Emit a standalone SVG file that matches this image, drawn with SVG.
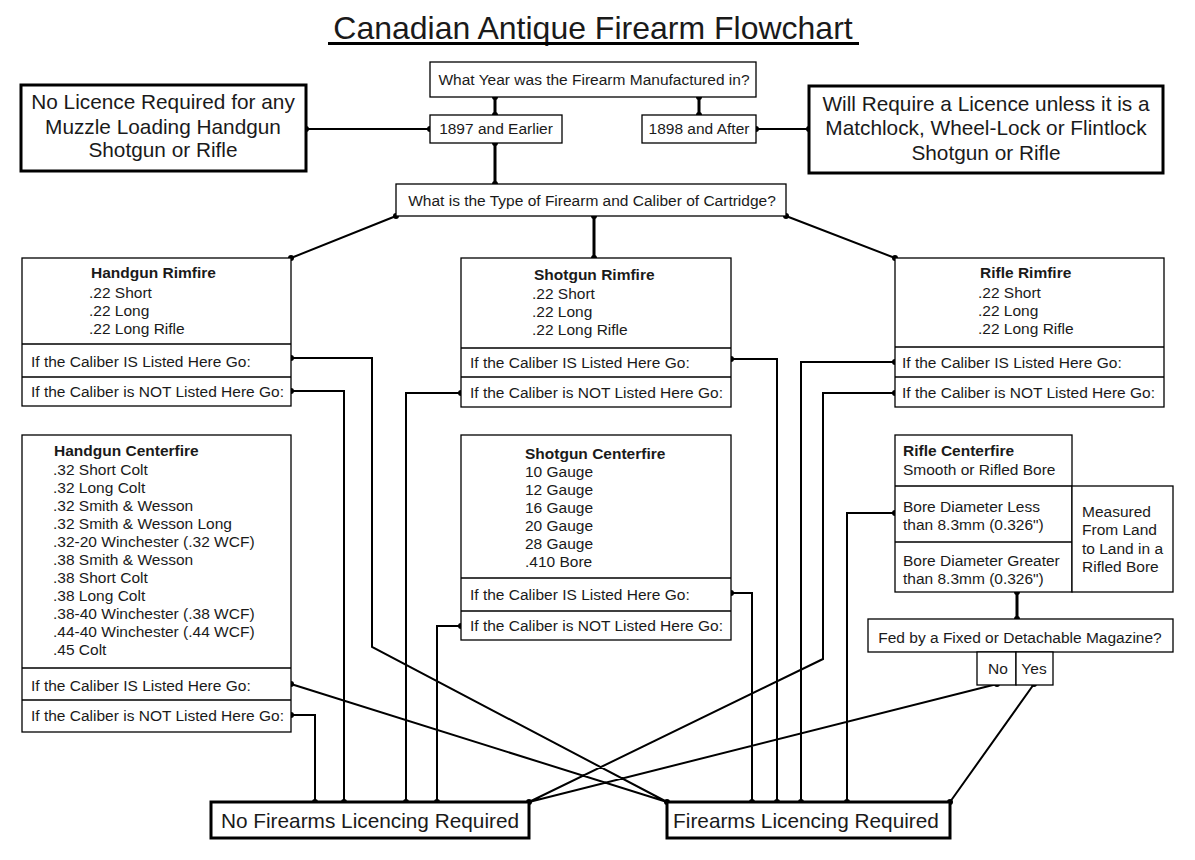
<svg xmlns="http://www.w3.org/2000/svg" width="1195" height="860" viewBox="0 0 1195 860">
<style>
.bx{fill:#fff;stroke:#000;stroke-width:1.3}
.bb{fill:#fff;stroke:#000;stroke-width:3}
.dv{stroke:#000;stroke-width:1.3}
text{font-family:"Liberation Sans",Arial,sans-serif;fill:#1a1a1a}
.t{font-size:15.5px}
.b{font-weight:bold}
.g{font-size:20.8px;text-anchor:middle}
.m{text-anchor:middle}
.c{fill:none;stroke:#000;stroke-width:2}
.k{stroke-width:3}
.d{fill:#000}
</style>
<rect width="1195" height="860" fill="#fff"/>
<g id="title">
<text x="593" y="39" font-size="32" text-anchor="middle" fill="#000">Canadian Antique Firearm Flowchart</text>
<rect x="328" y="42" width="531" height="3" fill="#000"/>
</g>
<g id="connectors">
<path class="c k" d="M495 97V115M699 97V115M495 143V184M594 216V258M1017 592V619"/>
<path class="c" d="M430 129H306M756 129H809M396 216L291 258M786 216L895 258"/>
<path class="c" d="M291 358H372V647L667 802M291 391H344V802M731 359H777V802M461 393H406V802M895 362H801V802M895 393H823V659L529 802M291 684L667 802M291 715H315V802M731 593H752V802M461 626H437V802M895 513H847V802M997 684L529 802M1034 684L950 802"/>
<g class="d">
<circle cx="495" cy="97" r="3"/><circle cx="495" cy="115" r="3"/><circle cx="699" cy="97" r="3"/><circle cx="699" cy="115" r="3"/>
<circle cx="495" cy="143" r="3"/><circle cx="495" cy="184" r="3"/><circle cx="430" cy="129" r="3"/><circle cx="306" cy="129" r="3"/>
<circle cx="756" cy="129" r="3"/><circle cx="809" cy="129" r="3"/><circle cx="396" cy="216" r="3"/><circle cx="291" cy="258" r="3"/>
<circle cx="594" cy="216" r="3"/><circle cx="594" cy="258" r="3"/><circle cx="786" cy="216" r="3"/><circle cx="895" cy="258" r="3"/>
<circle cx="291" cy="358" r="3"/><circle cx="291" cy="391" r="3"/><circle cx="731" cy="359" r="3"/><circle cx="461" cy="393" r="3"/>
<circle cx="895" cy="362" r="3"/><circle cx="895" cy="393" r="3"/><circle cx="291" cy="684" r="3"/><circle cx="291" cy="715" r="3"/>
<circle cx="731" cy="593" r="3"/><circle cx="461" cy="626" r="3"/><circle cx="895" cy="513" r="3"/><circle cx="1017" cy="592" r="3"/>
<circle cx="1017" cy="619" r="3"/><circle cx="997" cy="684" r="3"/><circle cx="1034" cy="684" r="3"/>
<circle cx="315" cy="802" r="3"/><circle cx="344" cy="802" r="3"/><circle cx="406" cy="802" r="3"/><circle cx="437" cy="802" r="3"/><circle cx="529" cy="802" r="3"/>
<circle cx="667" cy="802" r="3"/><circle cx="752" cy="802" r="3"/><circle cx="777" cy="802" r="3"/><circle cx="801" cy="802" r="3"/><circle cx="847" cy="802" r="3"/><circle cx="950" cy="802" r="3"/>
</g>
</g>
<g id="year">
<rect class="bx" x="430" y="62" width="326" height="35"/>
<text class="t m" x="594" y="85">What Year was the Firearm Manufactured in?</text>
</g>
<g id="early">
<rect class="bx" x="430" y="115" width="132" height="28"/>
<text class="t m" x="496" y="134">1897 and Earlier</text>
</g>
<g id="late">
<rect class="bx" x="642" y="115" width="114" height="28"/>
<text class="t m" x="699" y="134">1898 and After</text>
</g>
<g id="nolicence">
<rect class="bb" x="21" y="85" width="285" height="86"/>
<text class="g" x="163" y="109">No Licence Required for any</text>
<text class="g" x="163" y="134">Muzzle Loading Handgun</text>
<text class="g" x="163" y="157">Shotgun or Rifle</text>
</g>
<g id="willrequire">
<rect class="bb" x="809" y="86" width="354" height="87"/>
<text class="g" x="986" y="111">Will Require a Licence unless it is a</text>
<text class="g" x="986" y="135">Matchlock, Wheel-Lock or Flintlock</text>
<text class="g" x="986" y="160">Shotgun or Rifle</text>
</g>
<g id="type">
<rect class="bx" x="396" y="184" width="390" height="32"/>
<text class="t m" x="592" y="206">What is the Type of Firearm and Caliber of Cartridge?</text>
</g>
<g id="handgun-rimfire">
<rect class="bx" x="22" y="258" width="269" height="148"/>
<path class="dv" d="M22 344H291M22 377H291"/>
<text class="t b" x="91" y="278">Handgun Rimfire</text>
<text class="t" x="89" y="298">.22 Short</text>
<text class="t" x="89" y="316">.22 Long</text>
<text class="t" x="89" y="334">.22 Long Rifle</text>
<text class="t" x="31" y="367">If the Caliber IS Listed Here Go:</text>
<text class="t" x="31" y="397">If the Caliber is NOT Listed Here Go:</text>
</g>
<g id="shotgun-rimfire">
<rect class="bx" x="461" y="258" width="270" height="149"/>
<path class="dv" d="M461 348H731M461 377H731"/>
<text class="t b" x="534" y="280">Shotgun Rimfire</text>
<text class="t" x="532" y="299">.22 Short</text>
<text class="t" x="532" y="317">.22 Long</text>
<text class="t" x="532" y="335">.22 Long Rifle</text>
<text class="t" x="470" y="368">If the Caliber IS Listed Here Go:</text>
<text class="t" x="470" y="398">If the Caliber is NOT Listed Here Go:</text>
</g>
<g id="rifle-rimfire">
<rect class="bx" x="895" y="258" width="269" height="149"/>
<path class="dv" d="M895 347H1164M895 377H1164"/>
<text class="t b" x="980" y="278">Rifle Rimfire</text>
<text class="t" x="978" y="298">.22 Short</text>
<text class="t" x="978" y="316">.22 Long</text>
<text class="t" x="978" y="334">.22 Long Rifle</text>
<text class="t" x="902" y="368">If the Caliber IS Listed Here Go:</text>
<text class="t" x="902" y="398">If the Caliber is NOT Listed Here Go:</text>
</g>
<g id="handgun-centerfire">
<rect class="bx" x="22" y="435" width="269" height="297"/>
<path class="dv" d="M22 668H291M22 700H291"/>
<text class="t b" x="54" y="456">Handgun Centerfire</text>
<text class="t" x="53" y="475">.32 Short Colt</text>
<text class="t" x="53" y="493">.32 Long Colt</text>
<text class="t" x="53" y="511">.32 Smith &amp; Wesson</text>
<text class="t" x="53" y="529">.32 Smith &amp; Wesson Long</text>
<text class="t" x="53" y="547">.32-20 Winchester (.32 WCF)</text>
<text class="t" x="53" y="565">.38 Smith &amp; Wesson</text>
<text class="t" x="53" y="583">.38 Short Colt</text>
<text class="t" x="53" y="601">.38 Long Colt</text>
<text class="t" x="53" y="619">.38-40 Winchester (.38 WCF)</text>
<text class="t" x="53" y="637">.44-40 Winchester (.44 WCF)</text>
<text class="t" x="53" y="655">.45 Colt</text>
<text class="t" x="31" y="691">If the Caliber IS Listed Here Go:</text>
<text class="t" x="31" y="721">If the Caliber is NOT Listed Here Go:</text>
</g>
<g id="shotgun-centerfire">
<rect class="bx" x="461" y="435" width="270" height="205"/>
<path class="dv" d="M461 578H731M461 611H731"/>
<text class="t b" x="525" y="459">Shotgun Centerfire</text>
<text class="t" x="525" y="477">10 Gauge</text>
<text class="t" x="525" y="495">12 Gauge</text>
<text class="t" x="525" y="513">16 Gauge</text>
<text class="t" x="525" y="531">20 Gauge</text>
<text class="t" x="525" y="549">28 Gauge</text>
<text class="t" x="525" y="567">.410 Bore</text>
<text class="t" x="470" y="600">If the Caliber IS Listed Here Go:</text>
<text class="t" x="470" y="631">If the Caliber is NOT Listed Here Go:</text>
</g>
<g id="rifle-centerfire">
<rect class="bx" x="895" y="435" width="177" height="157"/>
<rect class="bx" x="1072" y="486" width="101" height="106"/>
<path class="dv" d="M895 486H1072M895 542H1072"/>
<text class="t b" x="903" y="456">Rifle Centerfire</text>
<text class="t" x="903" y="475">Smooth or Rifled Bore</text>
<text class="t" x="903" y="512">Bore Diameter Less</text>
<text class="t" x="903" y="530">than 8.3mm (0.326")</text>
<text class="t" x="903" y="566">Bore Diameter Greater</text>
<text class="t" x="903" y="584">than 8.3mm (0.326")</text>
<text class="t" x="1082" y="517">Measured</text>
<text class="t" x="1082" y="535">From Land</text>
<text class="t" x="1082" y="554">to Land in a</text>
<text class="t" x="1082" y="572">Rifled Bore</text>
</g>
<g id="magazine">
<rect class="bx" x="868" y="619" width="305" height="33"/>
<text class="t m" x="1020" y="643">Fed by a Fixed or Detachable Magazine?</text>
</g>
<g id="no">
<rect class="bx" x="977" y="652" width="39" height="33"/>
<text class="t m" x="998" y="674">No</text>
</g>
<g id="yes">
<rect class="bx" x="1016" y="652" width="37" height="33"/>
<text class="t m" x="1034" y="674">Yes</text>
</g>
<g id="no-licencing">
<rect class="bb" x="211" y="802" width="318" height="36"/>
<text class="g" x="370" y="828">No Firearms Licencing Required</text>
</g>
<g id="licencing">
<rect class="bb" x="667" y="802" width="283" height="36"/>
<text class="g" x="806" y="828">Firearms Licencing Required</text>
</g>
</svg>
